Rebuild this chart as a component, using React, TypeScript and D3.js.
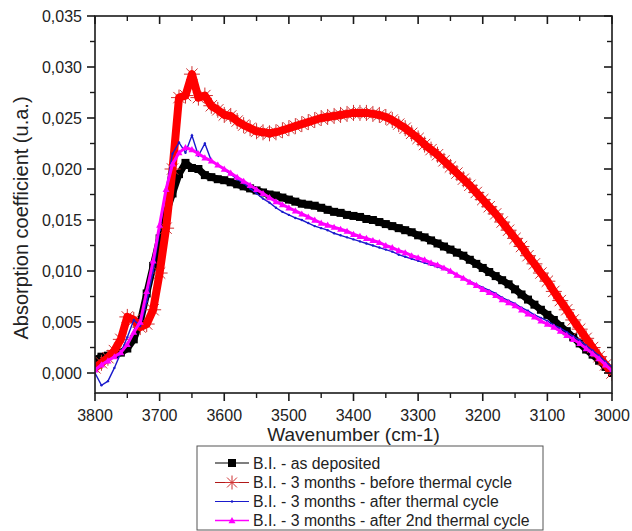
import React from "react";
import * as d3 from "d3";

const WAVENUMBERS = [
  3800, 3790, 3780, 3770, 3760, 3750, 3740, 3730, 3720, 3710,
  3700, 3690, 3680, 3670, 3660, 3650, 3640, 3630, 3620, 3610,
  3600, 3590, 3580, 3570, 3560, 3550, 3540, 3530, 3520, 3510,
  3500, 3490, 3480, 3470, 3460, 3450, 3440, 3430, 3420, 3410,
  3400, 3390, 3380, 3370, 3360, 3350, 3340, 3330, 3320, 3310,
  3300, 3290, 3280, 3270, 3260, 3250, 3240, 3230, 3220, 3210,
  3200, 3190, 3180, 3170, 3160, 3150, 3140, 3130, 3120, 3110,
  3100, 3090, 3080, 3070, 3060, 3050, 3040, 3030, 3020, 3010,
  3000,
];

const AS_DEPOSITED = [
  0.0013, 0.0016, 0.0017, 0.0018, 0.0020, 0.0024, 0.0033, 0.0050, 0.0078, 0.0105,
  0.0132, 0.0157, 0.0176, 0.0195, 0.0206, 0.0201, 0.0200, 0.0194, 0.0192, 0.0190,
  0.0189, 0.0187, 0.0185, 0.0183, 0.0181, 0.0179, 0.0177, 0.0175, 0.0174, 0.0172,
  0.0170, 0.0168, 0.0166, 0.0165, 0.0164, 0.0162, 0.0160, 0.0158, 0.0157, 0.0155,
  0.0154, 0.0153, 0.0151, 0.0150, 0.0148, 0.0146, 0.0144, 0.0142, 0.0140, 0.0138,
  0.0135, 0.0133, 0.0130, 0.0127, 0.0124, 0.0121, 0.0118, 0.0115, 0.0111, 0.0107,
  0.0103, 0.0099, 0.0095, 0.0091, 0.0087, 0.0082, 0.0077, 0.0072, 0.0067, 0.0062,
  0.0057, 0.0052, 0.0046, 0.0041, 0.0035, 0.0029, 0.0023, 0.0018, 0.0012, 0.0006,
  0.0000,
];

const BEFORE_CYCLE = [
  0.0005, 0.0010, 0.0015, 0.0022, 0.0033, 0.0055, 0.0052, 0.0045, 0.0048, 0.0062,
  0.0098, 0.0142, 0.0200, 0.0270, 0.0272, 0.0293, 0.0270, 0.0272, 0.0262, 0.0258,
  0.0253, 0.0252, 0.0247, 0.0243, 0.0240, 0.0237, 0.0236, 0.0235, 0.0236, 0.0238,
  0.0240, 0.0242, 0.0244, 0.0246, 0.0248, 0.0250, 0.0251, 0.0252, 0.0253, 0.0254,
  0.0255, 0.0255, 0.0255, 0.0254, 0.0253, 0.0251, 0.0248, 0.0244, 0.0240, 0.0235,
  0.0230, 0.0224, 0.0219, 0.0214, 0.0208, 0.0202, 0.0196, 0.0190, 0.0184, 0.0177,
  0.0170, 0.0163, 0.0156, 0.0148, 0.0140, 0.0132, 0.0124, 0.0115, 0.0107, 0.0098,
  0.0090, 0.0080, 0.0071, 0.0062, 0.0052, 0.0043, 0.0034, 0.0025, 0.0016, 0.0008,
  0.0000,
];

const AFTER_CYCLE = [
  0.0000, -0.0012, -0.0008, 0.0005, 0.0020, 0.0035, 0.0052, 0.0046, 0.0070, 0.0100,
  0.0140, 0.0180, 0.0215, 0.0226, 0.0216, 0.0233, 0.0213, 0.0225, 0.0208, 0.0204,
  0.0199, 0.0195, 0.0190, 0.0186, 0.0181, 0.0176, 0.0171, 0.0167, 0.0162, 0.0158,
  0.0155, 0.0152, 0.0150, 0.0147, 0.0144, 0.0142, 0.0140, 0.0137, 0.0135, 0.0133,
  0.0131, 0.0129, 0.0127, 0.0125, 0.0123, 0.0121, 0.0119, 0.0116, 0.0114, 0.0112,
  0.0110, 0.0108, 0.0106, 0.0104, 0.0102, 0.0099, 0.0096, 0.0093, 0.0090, 0.0087,
  0.0084, 0.0081, 0.0078, 0.0074, 0.0071, 0.0068, 0.0064, 0.0061, 0.0057, 0.0054,
  0.0051, 0.0047, 0.0044, 0.0040, 0.0036, 0.0032, 0.0027, 0.0022, 0.0017, 0.0011,
  0.0006,
];

const AFTER_2ND_CYCLE = [
  0.0003, 0.0008, 0.0012, 0.0016, 0.0020, 0.0028, 0.0040, 0.0050, 0.0080, 0.0110,
  0.0145, 0.0180, 0.0205, 0.0216, 0.0221, 0.0219, 0.0215, 0.0211, 0.0208, 0.0204,
  0.0200, 0.0196, 0.0192, 0.0188, 0.0184, 0.0180, 0.0176, 0.0172, 0.0168, 0.0165,
  0.0162, 0.0159, 0.0156, 0.0153, 0.0150, 0.0147, 0.0145, 0.0143, 0.0141, 0.0139,
  0.0136, 0.0134, 0.0132, 0.0130, 0.0128, 0.0125, 0.0123, 0.0120, 0.0118, 0.0115,
  0.0113, 0.0111, 0.0108, 0.0106, 0.0103, 0.0100, 0.0096, 0.0093, 0.0089, 0.0086,
  0.0082, 0.0079, 0.0076, 0.0072, 0.0069, 0.0066, 0.0062, 0.0058, 0.0055, 0.0051,
  0.0048, 0.0045, 0.0041, 0.0037, 0.0033, 0.0029, 0.0024, 0.0019, 0.0014, 0.0008,
  0.0002,
];

const X_MAJOR_TICKS = [3800, 3700, 3600, 3500, 3400, 3300, 3200, 3100, 3000];
const X_MINOR_TICKS = [3750, 3650, 3550, 3450, 3350, 3250, 3150, 3050];
const Y_MAJOR_TICKS = [0, 0.005, 0.01, 0.015, 0.02, 0.025, 0.03, 0.035];
const Y_MINOR_TICKS = [0.0025, 0.0075, 0.0125, 0.0175, 0.0225, 0.0275, 0.0325];

const SERIES_LABELS = [
  "B.I. - as deposited",
  "B.I. - 3 months - before thermal cycle",
  "B.I. - 3 months - after thermal cycle",
  "B.I. - 3 months - after 2nd thermal cycle",
];

const X_TITLE = "Wavenumber (cm-1)";
const Y_TITLE = "Absorption coefficient (u.a.)";

const FONT = "'Liberation Sans', Arial, sans-serif";

type Kind = "square" | "star" | "dot" | "triangle";

function Marker({ kind, x, y, r = 7.5 }: { kind: Kind; x: number; y: number; r?: number }) {
  if (kind === "square") {
    return <rect x={x - 4} y={y - 4} width={8} height={8} fill="#000" />;
  }
  if (kind === "star") {
    const d = r * 0.7071;
    return (
      <path
        d={`M${x - d},${y - d}L${x + d},${y + d}M${x - d},${y + d}L${x + d},${y - d}M${x},${y - r}L${x},${y + r}M${x - r},${y}L${x + r},${y}`}
        stroke="#cf3030"
        strokeWidth={1}
        fill="none"
      />
    );
  }
  if (kind === "dot") {
    return <circle cx={x} cy={y} r={1.2} fill="#1a1acc" />;
  }
  const s = 3.5;
  return (
    <path
      d={`M${x},${y - s}L${x + s},${y + s * 0.75}L${x - s},${y + s * 0.75}Z`}
      fill="#ff00ff"
    />
  );
}

export default function App() {
  const W = 632;
  const H = 531;
  const left = 95;
  const right = 612;
  const top = 16;
  const bottom = 393;

  const x = d3.scaleLinear().domain([3800, 3000]).range([left, right]);
  const y = d3.scaleLinear().domain([-0.00196, 0.035]).range([bottom, top]);
  const fmt = (v: number) => d3.format(".3f")(v).replace(".", ",");

  const series = [
    { values: AS_DEPOSITED, kind: "square" as Kind, line: "#000", lw: 1.2, band: "#000", bandW: 7 },
    { values: BEFORE_CYCLE, kind: "star" as Kind, line: "#b01818", lw: 1, band: "#ff0000", bandW: 8 },
    { values: AFTER_CYCLE, kind: "dot" as Kind, line: "#1a1acc", lw: 1.4, band: "", bandW: 0 },
    { values: AFTER_2ND_CYCLE, kind: "triangle" as Kind, line: "#ff00ff", lw: 3, band: "", bandW: 0 },
  ];

  const lineGen = d3
    .line<number>()
    .x((_, i) => x(WAVENUMBERS[i]))
    .y((v) => y(v));

  const legendX = 197;
  const legendY = 446;
  const legendRows = [463, 482.5, 501.5, 520.5];

  return (
    <svg
      width={W}
      height={H}
      style={{ position: "absolute", left: 0, top: 0, background: "#fff" }}
      fontFamily={FONT}
    >
      <defs>
        <clipPath id="plotclip">
          <rect x={left} y={top} width={right - left} height={bottom - top} />
        </clipPath>
      </defs>
      <rect width={W} height={H} fill="#fff" />

      <g clipPath="url(#plotclip)">
        {series.map((s, si) => (
          <g key={si}>
            <path d={lineGen(s.values) || ""} fill="none" stroke={s.line} strokeWidth={s.lw} />
            {s.values.map((v, i) => (
              <Marker key={i} kind={s.kind} x={x(WAVENUMBERS[i])} y={y(v)} r={8} />
            ))}
            {s.band ? (
              <path
                d={lineGen(s.values) || ""}
                fill="none"
                stroke={s.band}
                strokeWidth={s.bandW}
                strokeLinejoin="round"
              />
            ) : null}
          </g>
        ))}
      </g>

      {/* frame */}
      <rect
        x={left}
        y={top}
        width={right - left}
        height={bottom - top}
        fill="none"
        stroke="#1a1a1a"
        strokeWidth={1.6}
      />

      {/* x ticks: bottom outward, top inward */}
      {X_MAJOR_TICKS.map((t) => (
        <g key={"xm" + t}>
          <line x1={x(t)} x2={x(t)} y1={bottom} y2={bottom + 8} stroke="#1a1a1a" strokeWidth={1.6} />
          <line x1={x(t)} x2={x(t)} y1={top} y2={top + 8} stroke="#1a1a1a" strokeWidth={1.6} />
          <text x={x(t)} y={421} textAnchor="middle" fontSize={16} fill="#222">
            {t}
          </text>
        </g>
      ))}
      {X_MINOR_TICKS.map((t) => (
        <g key={"xn" + t}>
          <line x1={x(t)} x2={x(t)} y1={bottom} y2={bottom + 5} stroke="#1a1a1a" strokeWidth={1.4} />
          <line x1={x(t)} x2={x(t)} y1={top} y2={top + 5} stroke="#1a1a1a" strokeWidth={1.4} />
        </g>
      ))}

      {/* y ticks: left outward, right inward */}
      {Y_MAJOR_TICKS.map((t) => (
        <g key={"ym" + t}>
          <line x1={left - 8} x2={left} y1={y(t)} y2={y(t)} stroke="#1a1a1a" strokeWidth={1.6} />
          <line x1={right - 8} x2={right} y1={y(t)} y2={y(t)} stroke="#1a1a1a" strokeWidth={1.6} />
          <text x={82} y={y(t)} dy="0.36em" textAnchor="end" fontSize={16} fill="#222">
            {fmt(t)}
          </text>
        </g>
      ))}
      {Y_MINOR_TICKS.map((t) => (
        <g key={"yn" + t}>
          <line x1={left - 5} x2={left} y1={y(t)} y2={y(t)} stroke="#1a1a1a" strokeWidth={1.4} />
          <line x1={right - 5} x2={right} y1={y(t)} y2={y(t)} stroke="#1a1a1a" strokeWidth={1.4} />
        </g>
      ))}

      {/* axis titles */}
      <text x={(left + right) / 2} y={441} textAnchor="middle" fontSize={19} fill="#222">
        {X_TITLE}
      </text>
      <text
        transform={`translate(28,218) rotate(-90)`}
        textAnchor="middle"
        fontSize={20}
        fill="#222"
      >
        {Y_TITLE}
      </text>

      {/* legend */}
      <rect
        x={legendX}
        y={legendY}
        width={346}
        height={84}
        fill="#fff"
        stroke="#555"
        strokeWidth={1}
      />
      {series.map((s, i) => (
        <g key={"lg" + i}>
          <line
            x1={215}
            x2={249}
            y1={legendRows[i]}
            y2={legendRows[i]}
            stroke={s.line}
            strokeWidth={s.kind === "triangle" ? 1.5 : 1.2}
          />
          <Marker kind={s.kind} x={232} y={legendRows[i]} r={7} />
          <text x={253} y={legendRows[i]} dy="0.36em" fontSize={15.8} fill="#222">
            {SERIES_LABELS[i]}
          </text>
        </g>
      ))}
    </svg>
  );
}
